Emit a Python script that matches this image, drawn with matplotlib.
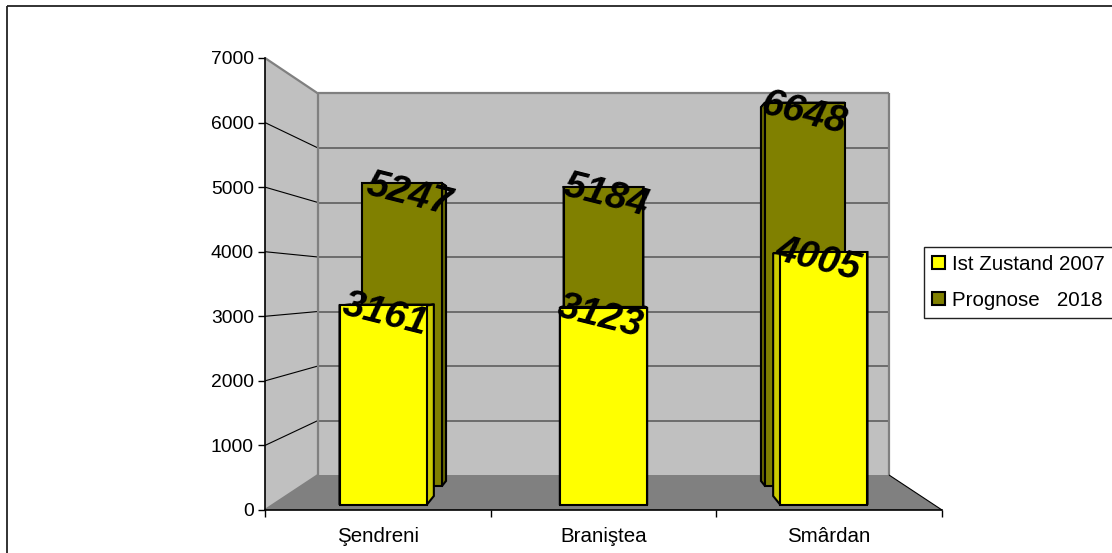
import matplotlib
matplotlib.use("Agg")
import matplotlib.pyplot as plt
from matplotlib.patches import Patch, Polygon, Rectangle

plt.rcParams['font.family'] = ['Liberation Sans', 'DejaVu Sans']

categories = ['Şendreni', 'Braniştea', 'Smârdan']
ist_2007 = [3161, 3123, 4005]
prognose_2018 = [5247, 5184, 6648]
y_ticks = [0, 1000, 2000, 3000, 4000, 5000, 6000, 7000]
series_names = ['Ist Zustand 2007', 'Prognose   2018']

YMAX = 7000
# fake 3d: how far the back plane moves in from the front plane
SHIFT_X = 53 / 677
SHIFT_Y = 35 / 452
SHRINK_Y = 70.5 / 452
BAR_HALF = 0.198
# the value labels sit a bit differently on each bar (pixels)
NUDGE_2007 = [(2, -9), (-3, -9), (-6, -8)]
NUDGE_2018 = [(7, -11), (3, -9), (-1, -11)]


def proj(pos, value, depth):
    x = 3 * SHIFT_X * depth + pos * (1 - 2 * SHIFT_X * depth)
    y = YMAX * SHIFT_Y * depth + value * (1 - SHRINK_Y * depth)
    return x, y


def face(ax, pts, color, z, edge='none', lw=0):
    ax.add_patch(Polygon(pts, closed=True, facecolor=color, edgecolor=edge,
                         linewidth=lw, zorder=z, clip_on=False, joinstyle='miter'))


def line(ax, a, b, color, lw, z):
    ax.plot([a[0], b[0]], [a[1], b[1]], color=color, lw=lw, zorder=z,
            clip_on=False, solid_capstyle='butt')


def bar3d(ax, pos, value, d0, d1, front, side, z):
    l, r = pos - BAR_HALF, pos + BAR_HALF
    kw = dict(edge='black', lw=1.5)
    face(ax, [proj(l, value, d0), proj(r, value, d0), proj(r, value, d1), proj(l, value, d1)], side, z, **kw)
    face(ax, [proj(l, 0, d0), proj(l, value, d0), proj(l, value, d1), proj(l, 0, d1)], side, z, **kw)
    face(ax, [proj(r, 0, d0), proj(r, value, d0), proj(r, value, d1), proj(r, 0, d1)], side, z, **kw)
    face(ax, [proj(l, 0, d0), proj(r, 0, d0), proj(r, value, d0), proj(l, value, d0)], front, z + 0.1, **kw)


W, H = 1112, 553
fig = plt.figure(figsize=(W / 100, H / 100), dpi=100)
fig.add_artist(Rectangle((6.5 / W, 1 - 5.5 / H), 1.2, -1.2, transform=fig.transFigure,
                         facecolor='none', edgecolor='#222222', linewidth=1.3))

ax = fig.add_axes([265 / W, (H - 510) / H, 677 / W, 452 / H])
ax.set_xlim(0, 3)
ax.set_ylim(0, YMAX)
ax.patch.set_visible(False)
for s in ['top', 'right']:
    ax.spines[s].set_visible(False)
for s in ['left', 'bottom']:
    ax.spines[s].set_linewidth(1.2)
    ax.spines[s].set_zorder(6)

# walls and floor
face(ax, [proj(0, 0, 1), proj(3, 0, 1), proj(3, YMAX, 1), proj(0, YMAX, 1)], '#C0C0C0', 1)
face(ax, [proj(0, 0, 0), proj(0, YMAX, 0), proj(0, YMAX, 1), proj(0, 0, 1)], '#C0C0C0', 1)
face(ax, [proj(0, 0, 0), proj(3, 0, 0), proj(3, 0, 1), proj(0, 0, 1)], '#808080', 1.1)

for v in y_ticks[1:-1]:
    line(ax, proj(0, v, 0), proj(0, v, 1), 'black', 0.8, 1.5)
    line(ax, proj(0, v, 1), proj(3, v, 1), '#666666', 1.3, 1.5)

grey_edges = [
    (proj(0, YMAX, 0), proj(0, YMAX, 1)),
    (proj(0, YMAX, 1), proj(3, YMAX, 1)),
    (proj(3, YMAX, 1), proj(3, 0, 1)),
    (proj(0, YMAX, 1), proj(0, 0, 1)),
    (proj(0, 0, 0), proj(0, 0, 1)),
]
for a, b in grey_edges:
    line(ax, a, b, '#808080', 1.6, 1.6)
line(ax, proj(3, 0, 0), proj(3, 0, 1), 'black', 0.8, 1.6)

for i, v in enumerate(prognose_2018):
    bar3d(ax, i + 0.5, v, 0.686, 0.83, '#808000', '#666600', 2 + i * 0.2)
for i, v in enumerate(ist_2007):
    bar3d(ax, i + 0.5, v, 0.15, 0.40, '#FFFF00', '#CCCC00', 3 + i * 0.2)

# value labels are tilted and lie over the bar tops
label_style = dict(fontsize=28, fontweight='bold', fontstyle='italic', color='black',
                   rotation=-14, rotation_mode='anchor', ha='center', va='center',
                   textcoords='offset pixels', zorder=8, annotation_clip=False)
for i, v in enumerate(prognose_2018):
    ax.annotate(str(v), xy=proj(i + 0.5, v, 0.686), xytext=NUDGE_2018[i], **label_style)
for i, v in enumerate(ist_2007):
    ax.annotate(str(v), xy=proj(i + 0.5, v, 0.15), xytext=NUDGE_2007[i], **label_style)

ax.set_yticks(y_ticks)
ax.set_xticks([0, 1, 2, 3])
ax.set_xticklabels([])
ax.set_xticks([0.5, 1.5, 2.5], labels=categories, minor=True)
ax.tick_params(axis='y', length=5, width=1, labelsize=13.9, pad=3)
ax.tick_params(axis='x', which='major', length=5, width=1)
ax.tick_params(axis='x', which='minor', length=0, labelsize=14.8, pad=12)

handles = [Patch(facecolor='#FFFF00', edgecolor='black', linewidth=1.5),
           Patch(facecolor='#808000', edgecolor='black', linewidth=1.5)]
fig.legend(handles, series_names, loc='upper left',
           bbox_to_anchor=(924 / W, 1 - 246.5 / H), bbox_transform=fig.transFigure,
           fontsize=14.8, fancybox=False, framealpha=1, edgecolor='#222222',
           handlelength=0.6, handleheight=0.6, handletextpad=0.35,
           labelspacing=0.85, borderpad=0.4, borderaxespad=0)

fig.savefig('out.png', dpi=100)
